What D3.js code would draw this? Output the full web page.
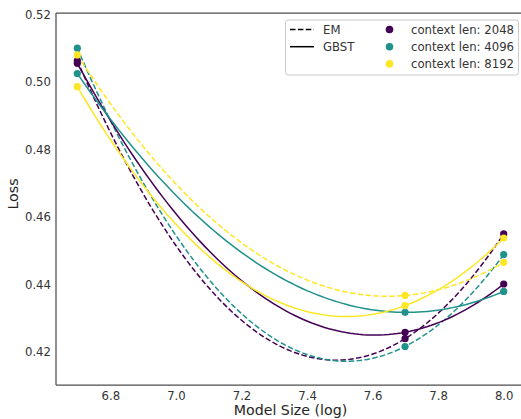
<!DOCTYPE html>
<html><head><meta charset="utf-8">
<script src="https://cdn.jsdelivr.net/npm/d3@7"></script>
<style>body{margin:0;background:#fff}svg{display:block}text{font-family:"DejaVu Sans",sans-serif}</style>
</head><body><svg id="c" width="521" height="419"></svg>
<script>
const modelSizes = [6.699, 7.699, 8.0];
const contextLens = ["2048", "4096", "8192"];
const methods = ["EM", "GBST"];
const em2048 = [0.5063, 0.4240, 0.4550];
const em4096 = [0.5100, 0.4217, 0.4489];
const em8192 = [0.5080, 0.4368, 0.4466];
const gbst2048 = [0.5055, 0.4259, 0.4402];
const gbst4096 = [0.5025, 0.4318, 0.4380];
const gbst8192 = [0.4986, 0.4338, 0.4538];
const xTicks = [6.8, 7.0, 7.2, 7.4, 7.6, 7.8, 8.0];
const yTicks = [0.42, 0.44, 0.46, 0.48, 0.50, 0.52];
const colors = ["#440154", "#21918c", "#fde725"];

const series = [
  {m:"EM", c:0, v:em2048}, {m:"EM", c:1, v:em4096}, {m:"EM", c:2, v:em8192},
  {m:"GBST", c:0, v:gbst2048}, {m:"GBST", c:1, v:gbst4096}, {m:"GBST", c:2, v:gbst8192}
];

const svg = d3.select("#c");
const L=56, R=525, T=13, B=385;
const x = d3.scaleLinear().domain([6.634, 8.065]).range([L, R]);
const y = d3.scaleLinear().domain([0.4103, 0.5204]).range([B, T]);

// quadratic fit through the 3 points (polyfit deg 2)
function quad(xs, ys){
  const [x0,x1,x2]=xs,[y0,y1,y2]=ys;
  return t => y0*(t-x1)*(t-x2)/((x0-x1)*(x0-x2)) + y1*(t-x0)*(t-x2)/((x1-x0)*(x1-x2)) + y2*(t-x0)*(t-x1)/((x2-x0)*(x2-x1));
}
const line = d3.line().x(d=>x(d[0])).y(d=>y(d[1]));
const g = svg.append("g");
series.forEach(s=>{
  const f = quad(modelSizes, s.v);
  const xs = d3.range(0,101).map(i=>modelSizes[0]+(modelSizes[2]-modelSizes[0])*i/100);
  g.append("path").attr("d", line(xs.map(t=>[t,f(t)])))
    .attr("fill","none").attr("stroke",colors[s.c]).attr("stroke-width",1.5)
    .attr("stroke-dasharray", s.m==="EM" ? "5.5,2.4" : null);
});
series.forEach(s=>{
  g.selectAll(null).data(modelSizes.map((t,i)=>[t,s.v[i]])).enter().append("circle")
    .attr("cx",d=>x(d[0])).attr("cy",d=>y(d[1])).attr("r",3.6).attr("fill",colors[s.c]);
});

// spines
const sp = "#4d4d4d";
svg.append("line").attr("x1",L).attr("x2",L).attr("y1",T).attr("y2",B).attr("stroke",sp).attr("stroke-width",1.25);
svg.append("line").attr("x1",L).attr("x2",R).attr("y1",B).attr("y2",B).attr("stroke",sp).attr("stroke-width",1.25);
svg.append("line").attr("x1",L).attr("x2",R).attr("y1",T).attr("y2",T).attr("stroke",sp).attr("stroke-width",1.25);

// axes tick labels
const tc = "#333";
const xa = svg.append("g").attr("transform",`translate(0,${B})`).call(d3.axisBottom(x).tickValues(xTicks).tickFormat(d3.format(".1f")).tickSize(0).tickPadding(7));
const ya = svg.append("g").attr("transform",`translate(${L},0)`).call(d3.axisLeft(y).tickValues(yTicks).tickFormat(d3.format(".2f")).tickSize(0).tickPadding(5));
[xa,ya].forEach(a=>{a.select(".domain").remove(); a.selectAll("text").attr("fill",tc).style("font-size","11.7px").style("font-family","DejaVu Sans");});

svg.append("text").attr("x",290.5).attr("y",415).attr("text-anchor","middle").attr("fill","#262626").style("font-size","14.2px").text("Model Size (log)");
svg.append("text").attr("transform","translate(17.5,194) rotate(-90)").attr("text-anchor","middle").attr("fill","#262626").style("font-size","14.2px").text("Loss");

// legend
const lg = svg.append("g");
lg.append("rect").attr("x",285.5).attr("y",20).attr("width",233).attr("height",55).attr("rx",2.5)
  .attr("fill","#fff").attr("fill-opacity",0.85).attr("stroke","#ccc").attr("stroke-width",1);
methods.forEach((m,i)=>{
  const yy = 29.5 + i*17.2;
  lg.append("line").attr("x1",290).attr("x2",314).attr("y1",yy).attr("y2",yy).attr("stroke","#000").attr("stroke-width",1.5)
    .attr("stroke-dasharray", m==="EM" ? "5.5,2.4" : null);
  lg.append("text").attr("x",323).attr("y",yy).attr("dy","0.35em").attr("fill","#333").style("font-size","11.7px").text(m);
});
contextLens.forEach((c,i)=>{
  const yy = 29.5 + i*17.2;
  lg.append("circle").attr("cx",389.5).attr("cy",yy).attr("r",3.8).attr("fill",colors[i]);
  lg.append("text").attr("x",411).attr("y",yy).attr("dy","0.35em").attr("fill","#333").style("font-size","11.7px").text("context len: "+c);
});
</script></body></html>
